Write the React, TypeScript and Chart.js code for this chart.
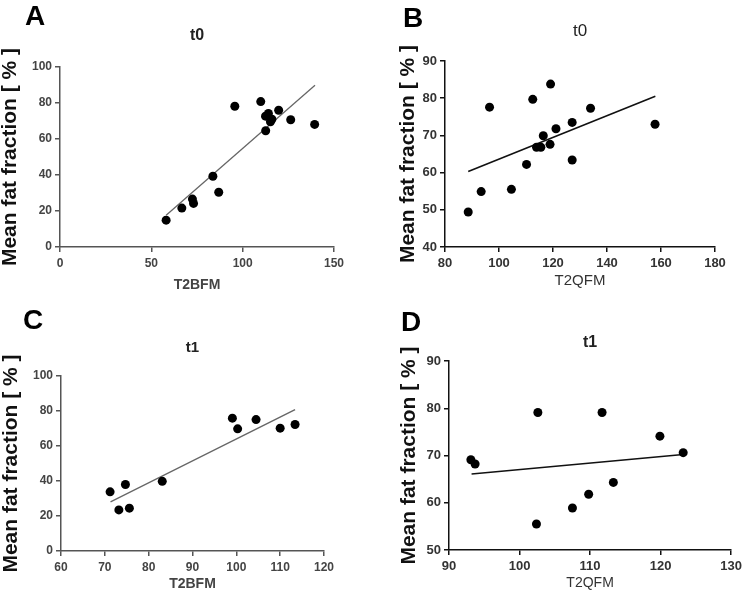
import React, { useEffect, useRef } from "react";
import { Chart, registerables } from "chart.js";

Chart.register(...registerables);

const FONT = '"Liberation Sans", Arial, Helvetica, sans-serif';
const Y_LABEL = "Mean fat fraction [ % ]";

// ---- Panel A (t0, T2BFM) ----
const aX = [58.1, 66.7, 72.5, 73.1, 83.7, 86.9, 95.7, 109.9, 112.5, 114.1, 112.6, 115.2, 116.0, 119.7, 126.3, 139.4];
const aY = [14.9, 21.6, 26.6, 24.2, 39.3, 30.4, 78.2, 80.8, 72.7, 74.2, 64.6, 69.6, 71.0, 76.0, 70.7, 68.1];
const aLineX = [58.1, 139.6];
const aLineY = [17.7, 89.9];
const aXTicks = [0, 50, 100, 150];
const aYTicks = [0, 20, 40, 60, 80, 100];

// ---- Panel B (t0, T2QFM) ----
const bX = [88.6, 93.4, 96.5, 104.6, 110.2, 112.5, 113.9, 115.5, 116.4, 118.9, 119.1, 121.1, 127.1, 127.1, 133.9, 157.8];
const bY = [49.4, 54.9, 77.6, 55.5, 62.2, 79.7, 66.8, 66.8, 69.9, 67.6, 83.8, 71.8, 73.5, 63.4, 77.3, 73.0];
const bLineX = [88.6, 157.9];
const bLineY = [60.3, 80.5];
const bXTicks = [80, 100, 120, 140, 160, 180];
const bYTicks = [40, 50, 60, 70, 80, 90];

// ---- Panel C (t1, T2BFM) ----
const cX = [71.2, 73.2, 74.7, 75.6, 83.1, 99.1, 100.3, 104.5, 110.0, 113.4];
const cY = [33.8, 23.5, 38.0, 24.5, 39.8, 75.9, 69.8, 75.1, 70.2, 72.3];
const cLineX = [71.3, 113.4];
const cLineY = [28.1, 80.8];
const cXTicks = [60, 70, 80, 90, 100, 110, 120];
const cYTicks = [0, 20, 40, 60, 80, 100];

// ---- Panel D (t1, T2QFM) ----
const dX = [93.1, 93.7, 102.4, 102.6, 107.5, 109.8, 111.7, 113.3, 119.9, 123.2];
const dY = [69.1, 68.2, 55.5, 79.1, 58.9, 61.8, 79.1, 64.3, 74.1, 70.6];
const dLineX = [93.2, 123.2];
const dLineY = [66.1, 70.2];
const dXTicks = [90, 100, 110, 120, 130];
const dYTicks = [50, 60, 70, 80, 90];

type PanelProps = {
  letter: string;
  title: string;
  xTitle: string;
  xs: number[];
  ys: number[];
  lineX: number[];
  lineY: number[];
  xTicks: number[];
  yTicks: number[];
  left: number;
  top: number;
  w: number;
  h: number;
  plotLeft: number;
  plotRight: number;
  plotTop: number;
  plotBottom: number;
  titleCY: number;
  xTitleCY: number;
  yTitleCX: number;
  letterX: number;
  letterY: number;
  axisColor: string;
  tickColor: string;
  tickFont: { size: number; weight: string };
  titleFont: { size: number; weight: string };
  xTitleFont: { size: number; weight: string };
  lineColor: string;
  lineWidth: number;
  axisWidth: number;
};

function Panel(p: PanelProps) {
  const ref = useRef<HTMLCanvasElement | null>(null);
  useEffect(() => {
    if (!ref.current) return;
    const yLabelSize = 21;
    const padLeft = Math.max(0, p.yTitleCX - yLabelSize / 2);
    const padBottom = Math.max(0, p.h - (p.xTitleCY + p.xTitleFont.size / 2));
    const yWidth = p.plotLeft - padLeft;
    const xHeight = p.xTitleCY + p.xTitleFont.size / 2 - p.plotBottom;
    const tPadTop = p.titleCY - p.titleFont.size / 2;
    const tPadBottom = p.plotTop - p.titleCY - p.titleFont.size / 2;

    const points = p.xs.map((x, i) => ({ x, y: p.ys[i] }));
    const line = p.lineX.map((x, i) => ({ x, y: p.lineY[i] }));

    const letterPlugin = {
      id: "panelLetter",
      afterDraw(chart: any) {
        const ctx = chart.ctx;
        ctx.save();
        ctx.font = `bold 28px ${FONT}`;
        ctx.fillStyle = "#000";
        ctx.textBaseline = "alphabetic";
        ctx.textAlign = "left";
        ctx.fillText(p.letter, p.letterX, p.letterY);
        ctx.restore();
      },
    };

    const scaleCommon = (ticks: number[]) => ({
      type: "linear" as const,
      min: ticks[0],
      max: ticks[ticks.length - 1],
      afterBuildTicks: (s: any) => {
        s.ticks = ticks.map((v) => ({ value: v }));
      },
      grid: {
        display: true,
        drawOnChartArea: false,
        drawTicks: true,
        tickLength: 5,
        color: p.axisColor,
        lineWidth: p.axisWidth,
      },
      border: { display: true, color: p.axisColor, width: p.axisWidth },
    });

    const chart = new Chart(ref.current, {
      type: "scatter",
      data: {
        datasets: [
          {
            data: points,
            pointRadius: 4.5,
            pointBackgroundColor: "#000",
            pointBorderWidth: 0,
            showLine: false,
          },
          {
            data: line,
            showLine: true,
            pointRadius: 0,
            borderColor: p.lineColor,
            borderWidth: p.lineWidth,
            fill: false,
          },
        ],
      },
      options: {
        animation: false,
        responsive: false,
        layout: { padding: { left: padLeft, right: p.w - p.plotRight, top: 0, bottom: padBottom } },
        plugins: {
          legend: { display: false },
          tooltip: { enabled: false },
          title: {
            display: true,
            text: p.title,
            fullSize: false,
            color: "#222",
            font: { family: FONT, size: p.titleFont.size, weight: p.titleFont.weight as any, lineHeight: 1 },
            padding: { top: tPadTop, bottom: tPadBottom },
          },
        },
        scales: {
          x: {
            ...scaleCommon(p.xTicks),
            afterFit: (s: any) => {
              s.height = xHeight;
            },
            ticks: {
              color: p.tickColor,
              padding: 4,
              maxRotation: 0,
              autoSkip: false,
              font: { family: FONT, size: p.tickFont.size, weight: p.tickFont.weight as any },
            },
            title: {
              display: true,
              text: p.xTitle,
              color: p.tickColor,
              font: { family: FONT, size: p.xTitleFont.size, weight: p.xTitleFont.weight as any, lineHeight: 1 },
              padding: { top: 0, bottom: 0 },
            },
          },
          y: {
            ...scaleCommon(p.yTicks),
            afterFit: (s: any) => {
              s.width = yWidth;
            },
            ticks: {
              color: p.tickColor,
              padding: 3,
              autoSkip: false,
              font: { family: FONT, size: p.tickFont.size, weight: p.tickFont.weight as any },
            },
            title: {
              display: true,
              text: Y_LABEL,
              color: "#111",
              font: { family: FONT, size: yLabelSize, weight: "bold", lineHeight: 1 },
              padding: { top: 0, bottom: 0 },
            },
          },
        },
      },
      plugins: [letterPlugin],
    });
    return () => chart.destroy();
  }, []);
  return (
    <canvas
      ref={ref}
      width={p.w}
      height={p.h}
      style={{ position: "absolute", left: p.left, top: p.top, width: p.w, height: p.h }}
    />
  );
}

const grayStyle = {
  axisColor: "#555",
  tickColor: "#444",
  tickFont: { size: 12, weight: "bold" },
  xTitleFont: { size: 14, weight: "bold" },
  lineColor: "#666",
  lineWidth: 1.3,
  axisWidth: 1.5,
};

const blackStyle = {
  axisColor: "#111",
  tickColor: "#333",
  tickFont: { size: 13, weight: "bold" },
  lineColor: "#111",
  lineWidth: 1.6,
  axisWidth: 1.5,
};

export default function App() {
  return (
    <div style={{ position: "absolute", left: 0, top: 0, width: 746, height: 593, background: "#fff" }}>
      <Panel
        letter="A" title="t0" xTitle="T2BFM"
        xs={aX} ys={aY} lineX={aLineX} lineY={aLineY} xTicks={aXTicks} yTicks={aYTicks}
        left={0} top={0} w={373} h={296}
        plotLeft={60} plotRight={334} plotTop={67} plotBottom={247}
        titleCY={36} xTitleCY={285} yTitleCX={10}
        letterX={25} letterY={25}
        titleFont={{ size: 16, weight: "bold" }}
        {...grayStyle}
      />
      <Panel
        letter="B" title="t0" xTitle="T2QFM"
        xs={bX} ys={bY} lineX={bLineX} lineY={bLineY} xTicks={bXTicks} yTicks={bYTicks}
        left={373} top={0} w={373} h={296}
        plotLeft={72} plotRight={342} plotTop={61} plotBottom={247}
        titleCY={31} xTitleCY={281} yTitleCX={35}
        letterX={30} letterY={27}
        titleFont={{ size: 17, weight: "normal" }}
        xTitleFont={{ size: 15, weight: "normal" }}
        {...blackStyle}
      />
      <Panel
        letter="C" title="t1" xTitle="T2BFM"
        xs={cX} ys={cY} lineX={cLineX} lineY={cLineY} xTicks={cXTicks} yTicks={cYTicks}
        left={0} top={296} w={373} h={297}
        plotLeft={61} plotRight={324} plotTop={80} plotBottom={255}
        titleCY={51.5} xTitleCY={288} yTitleCX={11}
        letterX={23} letterY={33}
        titleFont={{ size: 15, weight: "bold" }}
        {...grayStyle}
      />
      <Panel
        letter="D" title="t1" xTitle="T2QFM"
        xs={dX} ys={dY} lineX={dLineX} lineY={dLineY} xTicks={dXTicks} yTicks={dYTicks}
        left={373} top={296} w={373} h={297}
        plotLeft={76} plotRight={361} plotTop={65} plotBottom={254}
        titleCY={46.5} xTitleCY={287.5} yTitleCX={36}
        letterX={28} letterY={35}
        titleFont={{ size: 16, weight: "bold" }}
        xTitleFont={{ size: 14, weight: "normal" }}
        {...blackStyle}
      />
    </div>
  );
}
